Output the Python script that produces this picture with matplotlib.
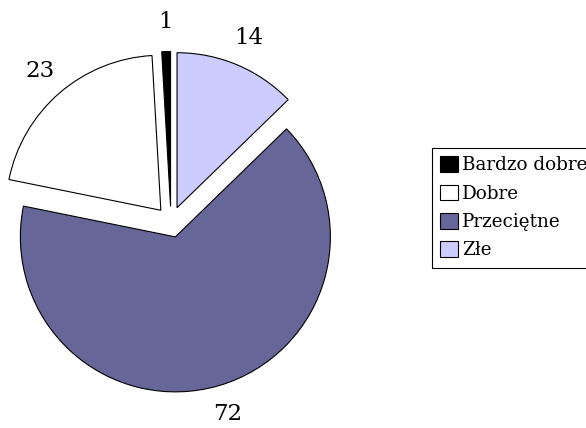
import matplotlib.pyplot as plt

categories = ['Bardzo dobre', 'Dobre', 'Przeciętne', 'Złe']
values = [1, 23, 72, 14]
colors = ['#000000', '#ffffff', '#666699', '#ccccff']

plt.rcParams['font.family'] = 'DejaVu Serif'

fig = plt.figure(figsize=(5.86, 4.28), dpi=100)
ax = fig.add_axes([0, 0, 1, 1])

wedges, texts = ax.pie(values, labels=[str(v) for v in values], colors=colors,
                       startangle=90, counterclock=True, explode=[0.1] * 4,
                       labeldistance=1.19,
                       wedgeprops=dict(edgecolor='black', linewidth=0.8))
for t in texts:
    t.set_ha('center')
    t.set_va('center')
    t.set_fontsize(16.5)

# pie centre at about (171, 222) px from top-left, radius ~155 px
r = 155
ax.set_xlim(-171 / r, (586 - 171) / r)
ax.set_ylim(-(428 - 222) / r, 222 / r)
ax.set_aspect('equal')

# the reference legend runs off the right edge, so it does here too
leg = ax.legend(wedges, categories, loc='upper left',
                bbox_to_anchor=(432 / 586, 1 - 148 / 428),
                bbox_transform=fig.transFigure,
                fontsize=13.2, fancybox=False, framealpha=1,
                edgecolor='black', handlelength=0.95, handleheight=0.95,
                handletextpad=0.25, labelspacing=0.55, borderpad=0.45,
                borderaxespad=0)
leg.get_frame().set_linewidth(0.8)

fig.savefig('out.png', dpi=100)
